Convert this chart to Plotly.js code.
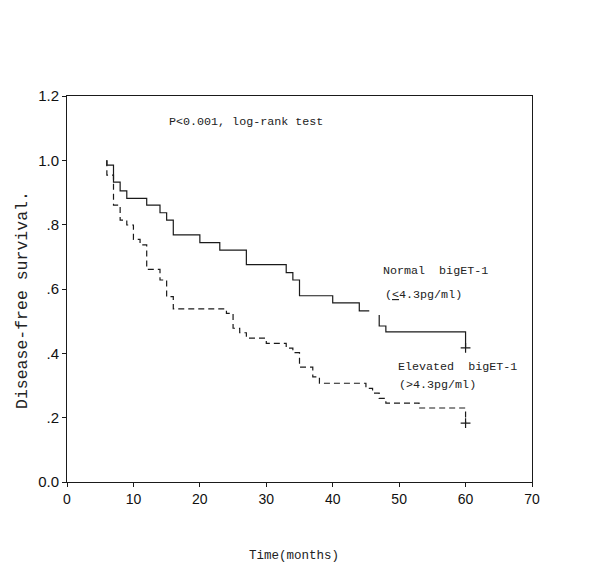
<!DOCTYPE html>
<html>
<head>
<meta charset="utf-8">
<script src="https://cdn.plot.ly/plotly-3.0.1.min.js"></script>
<style>html,body{margin:0;padding:0;background:#fff;}#chart{width:600px;height:578px;}</style>
</head>
<body>
<div id="chart"></div>
<script>
// Normal bigET-1 (<=4.3 pg/ml) step curve (null = gap in the drawn line)
const normalTime = [6, 6, 7, 8, 9, 12, 14, 15, 16, 20, 23, 27, 33, 34, 35, 40, 44, 45.5, null, 47, 47, 48, 60, 60];
const normalSurv = [1.0, 0.985, 0.932, 0.905, 0.882, 0.861, 0.837, 0.814, 0.768, 0.744, 0.721, 0.676, 0.651, 0.628, 0.579, 0.557, 0.532, 0.532, null, 0.519, 0.485, 0.467, 0.467, 0.417];
// Elevated bigET-1 (>4.3 pg/ml) step curve
const elevTime = [6, 6, 7, 8, 9, 10, 11, 12, 14, 15, 16, 24, 25, 26, 27, 30, 33, 34, 35, 37, 38, 45, 46, 47, 48, 53, 60, 60];
const elevSurv = [1.0, 0.954, 0.861, 0.814, 0.799, 0.754, 0.737, 0.661, 0.628, 0.576, 0.538, 0.524, 0.478, 0.464, 0.447, 0.431, 0.416, 0.402, 0.357, 0.327, 0.307, 0.291, 0.276, 0.260, 0.245, 0.230, 0.230, 0.183];

const yTickVals = [0, 0.2, 0.4, 0.6, 0.8, 1.0, 1.2];
const yTickText = ['0.0', '.2', '.4', '.6', '.8', '1.0', '1.2'];
const xTickVals = [0, 10, 20, 30, 40, 50, 60, 70];

const labelNormal1 = 'Normal  bigET-1';
const labelNormal2 = '(<u>&lt;</u>4.3pg/ml)';
const labelElev1 = 'Elevated  bigET-1';
const labelElev2 = '(&gt;4.3pg/ml)';
const pText = 'P&lt;0.001, log-rank test';

const lineCol = '#1a1a1a';
const textCol = '#222';
const mono = 'Liberation Mono, DejaVu Sans Mono, monospace';
const tickFamily = 'Liberation Sans Narrow, Arial Narrow, Liberation Sans, sans-serif';

const last = a => a[a.length - 1];

const traces = [
  {x: normalTime, y: normalSurv, mode: 'lines', line: {shape: 'hv', color: lineCol, width: 1.2}, connectgaps: false, hoverinfo: 'skip'},
  {x: elevTime, y: elevSurv, mode: 'lines', line: {shape: 'hv', color: lineCol, width: 1.2, dash: '6px,4px'}, hoverinfo: 'skip'},
  {x: [last(normalTime), last(elevTime)], y: [last(normalSurv), last(elevSurv)], mode: 'markers',
   marker: {symbol: 'cross-thin', size: 7, line: {color: lineCol, width: 1.2}}, hoverinfo: 'skip'}
];

const layout = {
  width: 600, height: 578,
  margin: {l: 67, r: 68, t: 96, b: 96},
  paper_bgcolor: '#fff', plot_bgcolor: '#fff',
  showlegend: false,
  xaxis: {
    range: [0, 70], tickvals: xTickVals, ticks: 'outside', ticklen: 4, tickcolor: lineCol,
    showline: true, linecolor: lineCol, linewidth: 1, mirror: true, showgrid: false, zeroline: false,
    tickfont: {family: tickFamily, size: 14, color: '#111'}
  },
  yaxis: {
    range: [0, 1.2], tickvals: yTickVals, ticktext: yTickText, ticks: 'outside', ticklen: 4, tickcolor: lineCol,
    showline: true, linecolor: lineCol, linewidth: 1, mirror: true, showgrid: false, zeroline: false,
    tickfont: {family: tickFamily, size: 15, color: '#111'}
  },
  annotations: [
    {xref: 'paper', yref: 'paper', x: (294 - 67) / 465, y: (482 - 556) / 386, text: 'Time(months)', showarrow: false,
     xanchor: 'center', yanchor: 'middle', font: {family: mono, size: 12.5, color: textCol}},
    {xref: 'paper', yref: 'paper', x: (22 - 67) / 465, y: (482 - 300) / 386, text: 'Disease-free survival.', showarrow: false,
     textangle: -90, xanchor: 'center', yanchor: 'middle', font: {family: mono, size: 16.5, color: textCol}},
    {xref: 'x', yref: 'y', x: 15.05, y: 1.119, text: pText, showarrow: false, xanchor: 'left', yanchor: 'middle',
     font: {family: mono, size: 11.7, color: textCol}},
    {xref: 'x', yref: 'y', x: 47.3, y: 0.657, text: labelNormal1, showarrow: false, xanchor: 'left', yanchor: 'middle',
     font: {family: mono, size: 11.7, color: textCol}},
    {xref: 'x', yref: 'y', x: 47.6, y: 0.581, text: labelNormal2, showarrow: false, xanchor: 'left', yanchor: 'middle',
     font: {family: mono, size: 11.7, color: textCol}},
    {xref: 'x', yref: 'y', x: 49.5, y: 0.358, text: labelElev1, showarrow: false, xanchor: 'left', yanchor: 'middle',
     font: {family: mono, size: 11.7, color: textCol}},
    {xref: 'x', yref: 'y', x: 49.7, y: 0.302, text: labelElev2, showarrow: false, xanchor: 'left', yanchor: 'middle',
     font: {family: mono, size: 11.7, color: textCol}}
  ]
};

Plotly.newPlot('chart', traces, layout, {staticPlot: true, displayModeBar: false});
</script>
</body>
</html>
